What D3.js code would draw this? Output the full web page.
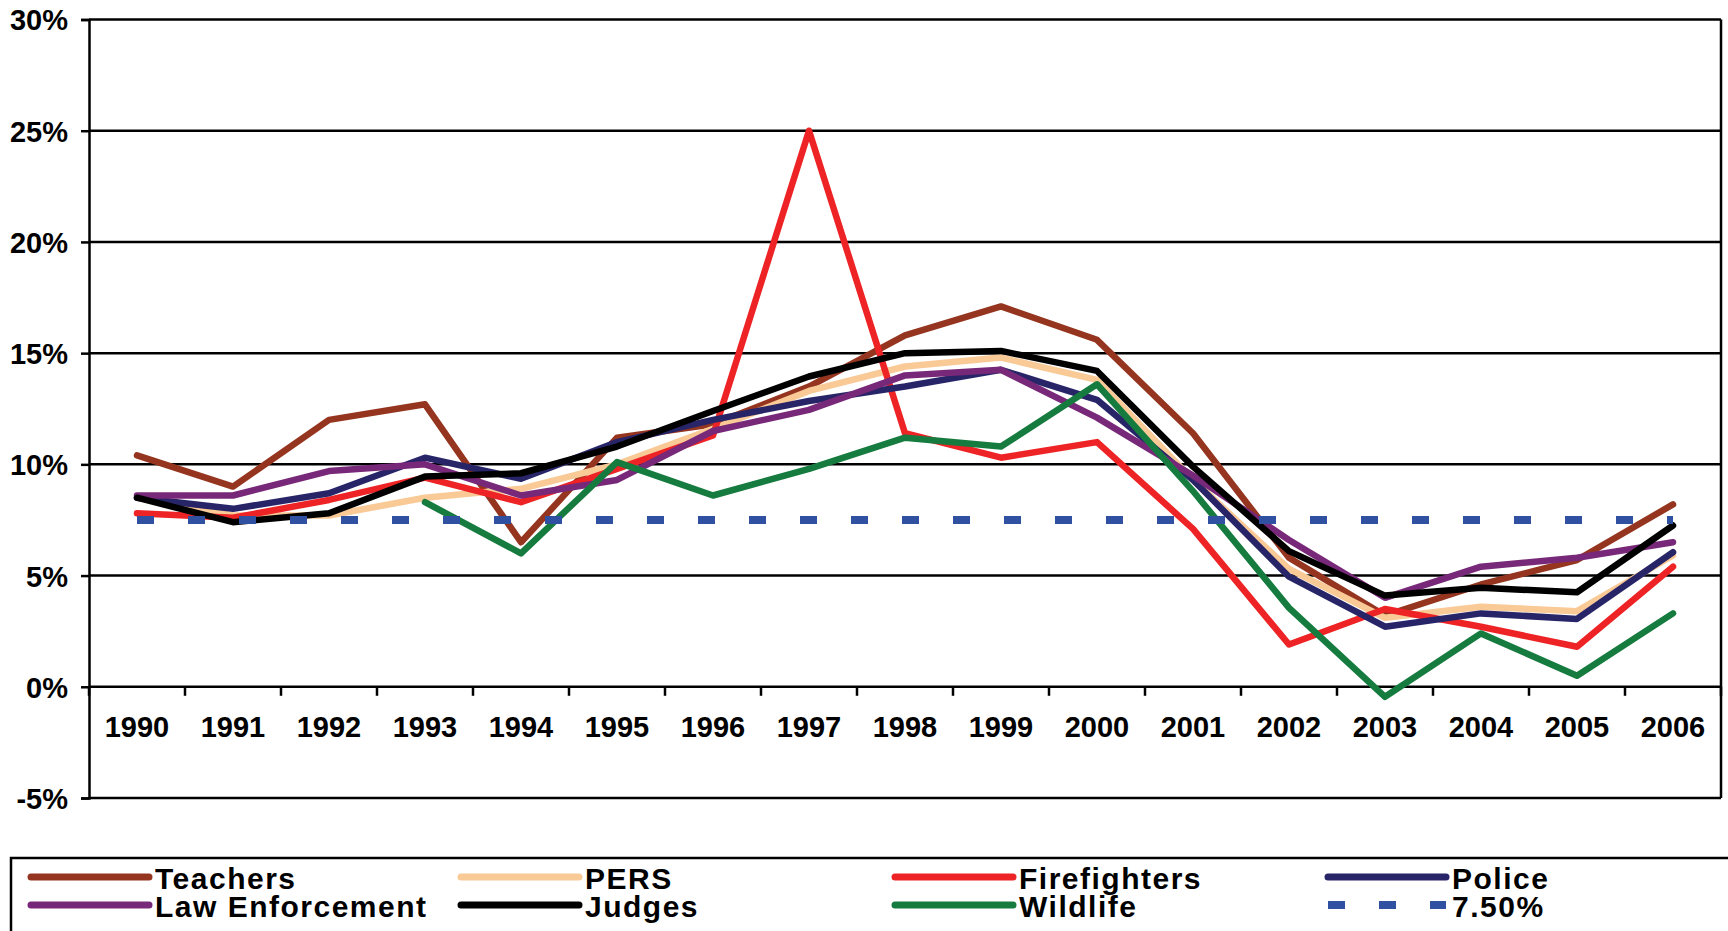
<!DOCTYPE html>
<html>
<head>
<meta charset="utf-8">
<script src="https://cdn.jsdelivr.net/npm/d3@7"></script>
<style>
  html, body { margin: 0; padding: 0; background: #fff; }
  svg { display: block; font-family: "Liberation Sans", Arial, sans-serif; font-weight: bold; }
</style>
</head>
<body>
<div id="chart"></div>
<script>
// Annual returns by system, in percent
const years = ['1990', '1991', '1992', '1993', '1994', '1995', '1996', '1997', '1998',
    '1999', '2000', '2001', '2002', '2003', '2004', '2005', '2006'];

const teachers = [10.4, 9.0, 12.0, 12.7, 6.5, 11.2, 11.8, 13.5, 15.8, 17.1, 15.6, 11.4, 5.8, 3.2, 4.6, 5.7, 8.2];
const pers = [8.5, 7.7, 7.7, 8.5, 8.9, 10.0, 11.6, 13.3, 14.4, 14.8, 13.8, 9.3, 5.3, 3.1, 3.6, 3.4, 5.9];
const firefighters = [7.8, 7.6, 8.4, 9.4, 8.3, 9.8, 11.3, 25.0, 11.4, 10.3, 11.0, 7.1, 1.9, 3.5, 2.7, 1.8, 5.4];
const police = [8.5, 8.0, 8.7, 10.3, 9.35, 11.0, 12.0, 12.85, 13.5, 14.25, 12.9, 9.3, 4.95, 2.7, 3.3, 3.05, 6.05];
const lawEnforcement = [8.6, 8.6, 9.7, 10.0, 8.6, 9.3, 11.5, 12.45, 14.0, 14.25, 12.1, 9.5, 6.6, 4.0, 5.4, 5.8, 6.5];
const judges = [8.5, 7.4, 7.8, 9.45, 9.6, 10.8, 12.4, 13.95, 15.0, 15.1, 14.2, 9.9, 6.1, 4.1, 4.45, 4.25, 7.25];
const wildlife = [null, null, null, 8.3, 6.0, 10.1, 8.6, 9.8, 11.2, 10.8, 13.6, 8.8, 3.55, -0.45, 2.4, 0.5, 3.3];
const target = 7.5;

const yTicks = [-5, 0, 5, 10, 15, 20, 25, 30];

const series = [
    { name: 'Teachers', values: teachers, color: '#953520' },
    { name: 'PERS', values: pers, color: '#F9C996' },
    { name: 'Firefighters', values: firefighters, color: '#EE2325' },
    { name: 'Police', values: police, color: '#272568' },
    { name: 'Law Enforcement', values: lawEnforcement, color: '#782878' },
    { name: 'Judges', values: judges, color: '#000000' },
    { name: 'Wildlife', values: wildlife, color: '#167B3E' }
];
const targetColor = '#3050A2';

const width = 1728, height = 931;
const plot = { left: 89, right: 1721, top: 19.5, bottom: 798 };

const svg = d3.select('#chart')
    .append('svg')
    .attr('width', width)
    .attr('height', height);

const x = d3.scaleBand()
    .domain(years)
    .range([plot.left, plot.right])
    .padding(0);

const y = d3.scaleLinear()
    .domain([-5, 30])
    .range([plot.bottom, plot.top]);

const cx = (yr) => x(yr) + x.bandwidth() / 2;

// Gridlines
svg.append('g')
    .classed('grid', true)
    .selectAll('line')
    .data(yTicks)
    .join('line')
    .attr('x1', plot.left)
    .attr('x2', plot.right)
    .attr('y1', (d) => y(d))
    .attr('y2', (d) => y(d))
    .attr('stroke', '#000')
    .attr('stroke-width', 2.5);

// Right border
svg.append('line')
    .attr('x1', plot.right).attr('x2', plot.right)
    .attr('y1', plot.top).attr('y2', plot.bottom)
    .attr('stroke', '#000')
    .attr('stroke-width', 2.5);

// Y axis
const yAxis = svg.append('g')
    .attr('transform', `translate(${plot.left},0)`)
    .call(d3.axisLeft(y).tickValues(yTicks).tickSize(8).tickPadding(13).tickFormat((d) => d + '%'));
yAxis.select('.domain').attr('stroke-width', 2.5);
yAxis.selectAll('.tick line').attr('stroke-width', 2.5);
yAxis.selectAll('text')
    .attr('font-size', 29)
    .attr('font-weight', 'bold')
    .attr('font-family', '"Liberation Sans", Arial, sans-serif')
    .attr('fill', '#000')
    .attr('dy', '0.36em');

// Category ticks along the 0% line
const edges = years.map((yr) => x(yr)).concat([plot.right]);
svg.append('g')
    .selectAll('line')
    .data(edges)
    .join('line')
    .attr('x1', (d) => d).attr('x2', (d) => d)
    .attr('y1', y(0)).attr('y2', y(0) + 9)
    .attr('stroke', '#000')
    .attr('stroke-width', 2.5);

svg.append('g')
    .selectAll('text')
    .data(years)
    .join('text')
    .attr('x', (d) => cx(d))
    .attr('y', y(0) + 50)
    .attr('text-anchor', 'middle')
    .attr('font-size', 29)
    .text((d) => d);

// Series lines
const line = d3.line()
    .defined((d) => d.v !== null)
    .x((d) => cx(d.yr))
    .y((d) => y(d.v));

svg.append('g')
    .classed('series', true)
    .selectAll('path')
    .data(series)
    .join('path')
    .attr('d', (s) => line(s.values.map((v, i) => ({ yr: years[i], v }))))
    .attr('fill', 'none')
    .attr('stroke', (s) => s.color)
    .attr('stroke-width', 6.5)
    .attr('stroke-linejoin', 'round')
    .attr('stroke-linecap', 'round');

// 7.50% target line
svg.append('line')
    .attr('x1', cx(years[0]))
    .attr('x2', cx(years[years.length - 1]))
    .attr('y1', y(target))
    .attr('y2', y(target))
    .attr('stroke', targetColor)
    .attr('stroke-width', 8)
    .attr('stroke-dasharray', '17,34');

// Legend
const legend = svg.append('g').classed('legend', true);
legend.append('rect')
    .attr('x', 11).attr('y', 858)
    .attr('width', 1740).attr('height', 120)
    .attr('fill', 'none')
    .attr('stroke', '#000')
    .attr('stroke-width', 2.5);

const legendItems = series.map((s) => ({ name: s.name, color: s.color, dashed: false }))
    .concat([{ name: '7.50%', color: targetColor, dashed: true }]);
const colX = [31, 461, 895, 1328];
const rowY = [877, 905];

const item = legend.selectAll('g.item')
    .data(legendItems)
    .join('g')
    .classed('item', true)
    .attr('transform', (d, i) => `translate(${colX[i % 4]},${rowY[Math.floor(i / 4)]})`);

item.append('line')
    .attr('x1', 0).attr('x2', 118)
    .attr('stroke', (d) => d.color)
    .attr('stroke-width', (d) => (d.dashed ? 8 : 7))
    .attr('stroke-linecap', (d) => (d.dashed ? 'butt' : 'round'))
    .attr('stroke-dasharray', (d) => (d.dashed ? '17,34' : null));

item.append('text')
    .attr('x', 124)
    .attr('y', 12)
    .attr('font-size', 30)
    .attr('letter-spacing', 1.5)
    .text((d) => d.name);
</script>
</body>
</html>
